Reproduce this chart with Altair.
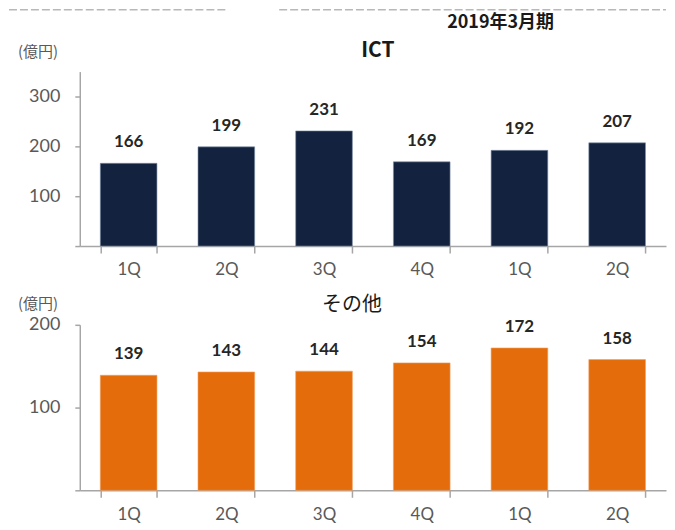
import altair as alt
import pandas as pd

# ---- data ----
fiscal = ["2018年3月期"] * 4 + ["2019年3月期"] * 2
quarters = ["1Q", "2Q", "3Q", "4Q", "1Q", "2Q"]
ict_values = [166, 199, 231, 169, 192, 207]
other_values = [139, 143, 144, 154, 172, 158]
panel_titles = ["ICT", "その他"]
unit_label = ["(億円)"]
period_label = ["2019年3月期"]

keys = [f"{f}-{q}" for f, q in zip(fiscal, quarters)]
df_ict = pd.DataFrame({"key": keys, "v": ict_values})
df_other = pd.DataFrame({"key": keys, "v": other_values})

W = 588
NAVY = "#13233F"
ORANGE = "#E46C0A"
AXIS_GRAY = "#A6A6A6"
LABEL = "#595959"
NUM_FONT = "Lato"
JP_FONT = "Noto Sans CJK JP"


def x_enc():
    return alt.X(
        "key:N",
        sort=keys,
        scale=alt.Scale(paddingInner=0.42, paddingOuter=0.21),
        axis=alt.Axis(
            title=None,
            labelExpr="split(datum.label, '-')[1]",
            labelAngle=0,
            labelFont=NUM_FONT,
            labelFontSize=17,
            labelColor=LABEL,
            labelPadding=9,
            tickSize=7,
            tickBand="extent",
            tickColor=AXIS_GRAY,
            tickWidth=1.5,
            domainColor=AXIS_GRAY,
            domainWidth=1.5,
        ),
    )


def y_enc(domain, ticks):
    return alt.Y(
        "v:Q",
        scale=alt.Scale(domain=domain, nice=False),
        axis=alt.Axis(
            title=None,
            values=ticks,
            labelExpr="datum.value == 0 ? '' : datum.label",
            grid=False,
            tickSize=5,
            tickColor=AXIS_GRAY,
            tickWidth=1.5,
            domainColor=AXIS_GRAY,
            domainWidth=1.5,
            labelPadding=15,
            labelFont=NUM_FONT,
            labelFontSize=18,
            labelColor=LABEL,
        ),
    )


def text_note(text, x, y, size, weight="normal", font=JP_FONT, align="center", color="#1a1a1a"):
    return alt.Chart(pd.DataFrame({"t": [text]})).mark_text(
        font=font, fontSize=size, fontWeight=weight, align=align, baseline="middle", color=color
    ).encode(x=alt.value(x), y=alt.value(y), text="t:N")


def dashed(x1, x2, y):
    return alt.Chart(pd.DataFrame({"a": [0]})).mark_rule(
        strokeDash=[8, 3], color="#B8B8B8", strokeWidth=1.5
    ).encode(x=alt.value(x1), x2=alt.value(x2), y=alt.value(y))


def panel(df, color, domain, ticks):
    base = alt.Chart(df)
    bars = base.mark_bar(color=color, stroke="#8090a8" if color == NAVY else "#f0a060", strokeWidth=0.6).encode(
        x=x_enc(), y=y_enc(domain, ticks)
    )
    labels = base.mark_text(
        baseline="alphabetic", dy=-16, font=NUM_FONT, fontSize=17, fontWeight="bold", color="#262626"
    ).encode(x=alt.X("key:N", sort=keys), y="v:Q", text="v:Q")
    return bars, labels


ict_bars, ict_labels = panel(df_ict, NAVY, [0, 350], [0, 100, 200, 300])
oth_bars, oth_labels = panel(df_other, ORANGE, [0, 200], [0, 100, 200])

top = alt.layer(
    ict_bars,
    ict_labels,
    dashed(-71, 146, -62),
    dashed(200, W, -62),
    text_note(period_label[0], 422, -49, 18, weight="bold"),
    text_note(panel_titles[0], 299, -21, 21, weight="bold"),
    text_note(unit_label[0], -62, -20, 15, align="left", color=LABEL),
).properties(width=W, height=175)

bottom = alt.layer(
    oth_bars,
    oth_labels,
    text_note(panel_titles[1], 273, -20, 20),
    text_note(unit_label[0], -62, -21, 15, align="left", color=LABEL),
).properties(width=W, height=166)

chart = (
    alt.vconcat(top, bottom, spacing=17)
    .properties(padding=0)
    .configure_view(stroke=None)
)

chart.save("out.html", embed_options={"renderer": "svg", "actions": False})
